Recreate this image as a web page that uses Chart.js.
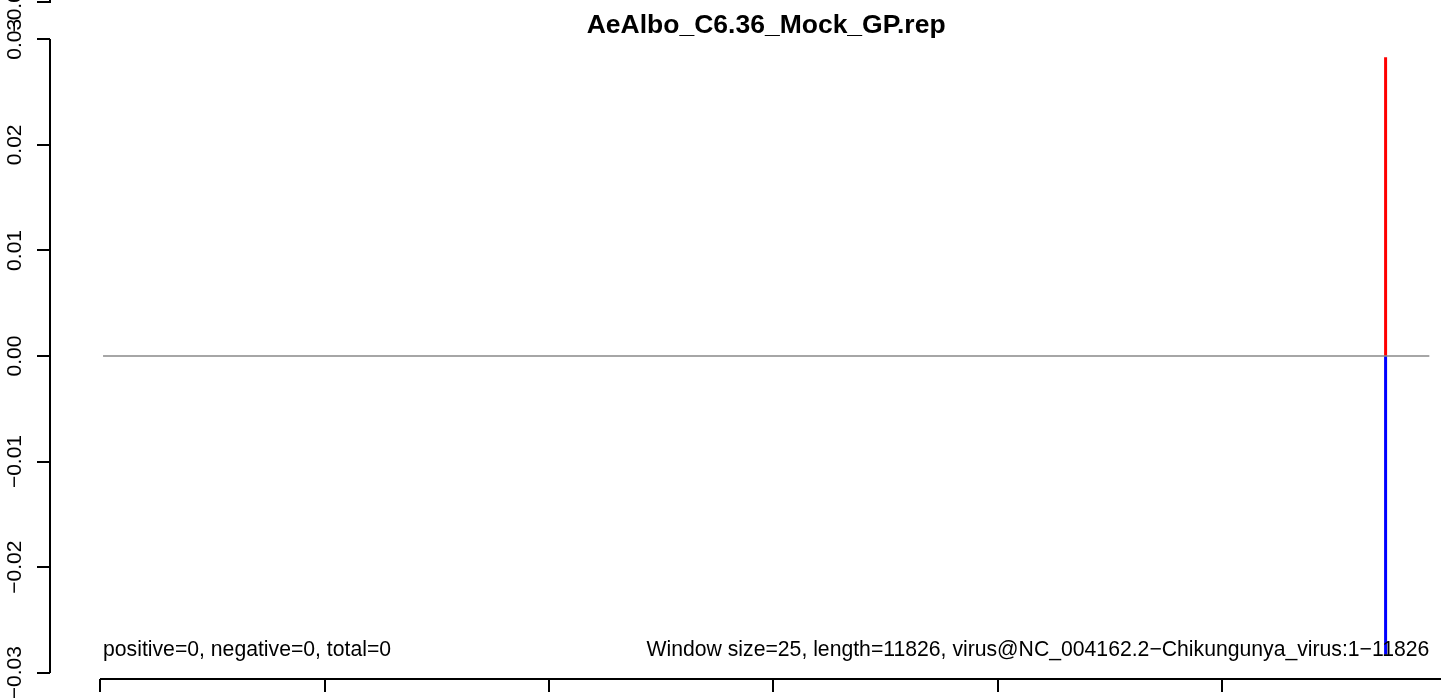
<!DOCTYPE html>
<html>
<head>
<meta charset="utf-8">
<title>AeAlbo_C6.36_Mock_GP.rep</title>
<script src="https://cdn.jsdelivr.net/npm/chart.js@4/dist/chart.umd.min.js"></script>
<style>
  html, body { margin: 0; padding: 0; background: #fff; overflow: hidden; }
  #plot { display: block; }
</style>
</head>
<body>
<canvas id="plot" width="1441" height="698"></canvas>
<script>
// profile of one virus genome, window-based coverage (R-style plot)
const TITLE = 'AeAlbo_C6.36_Mock_GP.rep';
const NOTE_LEFT = 'positive=0, negative=0, total=0';
const NOTE_RIGHT = 'Window size=25, length=11826, virus@NC_004162.2\u2212Chikungunya_virus:1\u221211826';

// axes
const X_RANGE = [-448, 11954];          // visible part of the plot range
const X_CENTER = 5937;                  // middle of the full plot range (for title)
const Y_RANGE = [-0.0306, 0.0306];
const X_TICKS = [0, 2000, 4000, 6000, 8000, 10000, 12000];
const Y_TICKS = [-0.03, -0.02, -0.01, 0, 0.01, 0.02, 0.03];
const Y_LABELS = ['\u22120.03', '\u22120.02', '\u22120.01', '0.00', '0.01', '0.02', '0.03'];

// series
const BASE_X = [25, 11850];
const BASE_Y = [0, 0];
const PEAK_X = [11460, 11460];
const POS_Y = [0, 0.0283];
const NEG_Y = [0, -0.0283];

const FONT = '"Liberation Sans", Arial, Helvetica, sans-serif';
const COLORS = { axis: '#000', base: '#888', pos: '#ff0000', neg: '#0000ff' };

const pts = (xs, ys) => xs.map((x, i) => ({ x, y: ys[i] }));

// draws R-like axes, labels and texts using the chart scales
const rAxes = {
  id: 'rAxes',
  afterDraw(chart) {
    const { ctx, chartArea: a, scales: { x, y } } = chart;
    ctx.save();
    ctx.strokeStyle = COLORS.axis;
    ctx.fillStyle = '#000';
    ctx.lineWidth = 2;

    // y axis: line between first and last tick
    const yTop = Math.round(y.getPixelForValue(Y_TICKS[Y_TICKS.length - 1]));
    const yBot = Math.round(y.getPixelForValue(Y_TICKS[0]));
    ctx.beginPath();
    ctx.moveTo(a.left, yTop); ctx.lineTo(a.left, yBot);
    Y_TICKS.forEach(v => {
      const py = Math.round(y.getPixelForValue(v));
      ctx.moveTo(a.left, py); ctx.lineTo(a.left - 13, py);
    });
    ctx.stroke();

    ctx.font = '21px ' + FONT;
    ctx.textAlign = 'center';
    ctx.textBaseline = 'alphabetic';
    Y_TICKS.forEach((v, i) => {
      ctx.save();
      ctx.translate(21, y.getPixelForValue(v));
      ctx.rotate(-Math.PI / 2);
      ctx.fillText(Y_LABELS[i], 0, 0);
      ctx.restore();
    });

    // piece of the panel above (cut off at the top edge)
    ctx.beginPath();
    ctx.moveTo(a.left, 0); ctx.lineTo(a.left, 2); ctx.lineTo(a.left - 13, 2);
    ctx.stroke();
    ctx.save();
    ctx.translate(21, 6);
    ctx.rotate(-Math.PI / 2);
    ctx.fillText(Y_LABELS[0], 0, 0);
    ctx.restore();

    // x axis below the plot region
    const px0 = Math.round(x.getPixelForValue(X_TICKS[0]));
    const px1 = Math.round(x.getPixelForValue(X_TICKS[X_TICKS.length - 1]));
    ctx.beginPath();
    ctx.moveTo(px0, a.bottom); ctx.lineTo(px1, a.bottom);
    X_TICKS.forEach(v => {
      const px = Math.round(x.getPixelForValue(v));
      ctx.moveTo(px, a.bottom); ctx.lineTo(px, a.bottom + 13);
    });
    ctx.stroke();

    // title
    ctx.font = 'bold 26.5px ' + FONT;
    ctx.textAlign = 'center';
    ctx.fillText(TITLE, x.getPixelForValue(X_CENTER), 33);

    // notes at the bottom of the plot
    ctx.font = '21.2px ' + FONT;
    const noteY = y.getPixelForValue(Y_TICKS[0]) - 17;
    ctx.textAlign = 'left';
    ctx.fillText(NOTE_LEFT, x.getPixelForValue(BASE_X[0]), noteY);
    ctx.textAlign = 'right';
    ctx.fillText(NOTE_RIGHT, x.getPixelForValue(BASE_X[1]), noteY);
    ctx.restore();
  }
};

new Chart(document.getElementById('plot'), {
  type: 'line',
  data: {
    datasets: [
      { data: pts(BASE_X, BASE_Y), borderColor: COLORS.base, borderWidth: 1.5, pointRadius: 0 },
      { data: pts(PEAK_X, POS_Y), borderColor: COLORS.pos, borderWidth: 3, pointRadius: 0 },
      { data: pts(PEAK_X, NEG_Y), borderColor: COLORS.neg, borderWidth: 3, pointRadius: 0 }
    ]
  },
  options: {
    responsive: false,
    animation: false,
    devicePixelRatio: 1,
    layout: { padding: { left: 50, top: 33, right: 0, bottom: 19 } },
    plugins: { legend: { display: false }, tooltip: { enabled: false }, title: { display: false } },
    scales: {
      x: { type: 'linear', display: false, min: X_RANGE[0], max: X_RANGE[1] },
      y: { type: 'linear', display: false, min: Y_RANGE[0], max: Y_RANGE[1] }
    }
  },
  plugins: [rAxes]
});
</script>
</body>
</html>
